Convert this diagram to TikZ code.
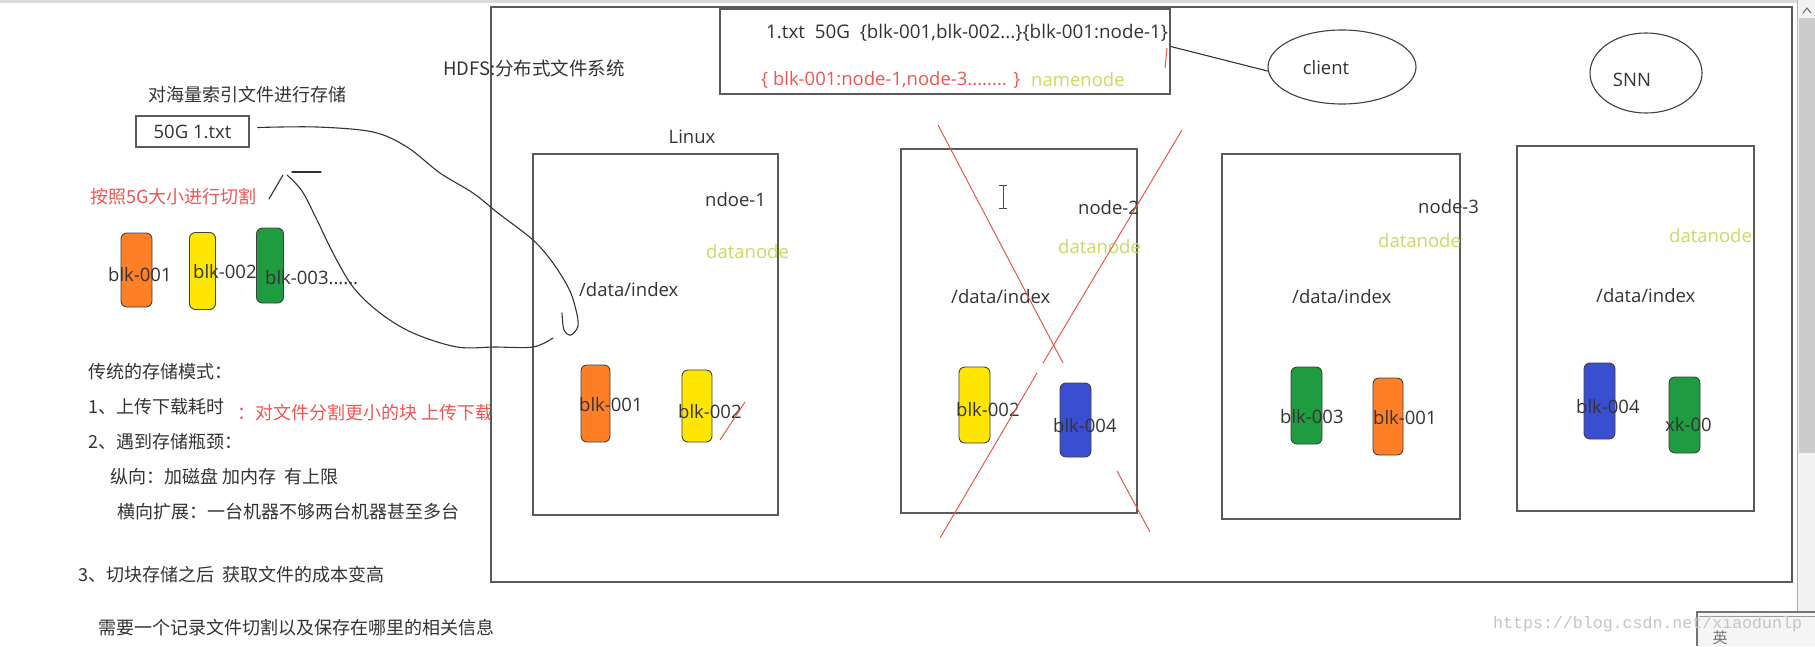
\documentclass[tikz,border=0pt]{standalone}
\usepackage{fontspec}
\setmainfont{Open Sans}
\newfontfamily\cjk{Noto Sans CJK SC}
\newfontfamily\wmfont{Liberation Mono}
\usetikzlibrary{shapes.geometric,calc}
\definecolor{txt}{HTML}{333333}
\definecolor{boxline}{HTML}{5A5A5A}
\definecolor{orangeblk}{HTML}{FF7F27}
\definecolor{yellowblk}{HTML}{FFE600}
\definecolor{greenblk}{HTML}{1F9B40}
\definecolor{blueblk}{HTML}{3A4ED2}
\definecolor{dngreen}{HTML}{C6DC62}
\definecolor{redtxt}{HTML}{F05552}
\definecolor{redx}{HTML}{E8584A}
\definecolor{wmgray}{HTML}{C4C4C4}
\begin{document}
\begin{tikzpicture}[x=1pt,y=-1pt,
  lbl/.style={inner sep=0pt, anchor=west, text=txt, font=\fontsize{18.5}{20}\selectfont},
  zh/.style={inner sep=0pt, anchor=west, text=txt, font=\cjk\fontsize{18}{20}\selectfont},
  dn/.style={lbl, text=dngreen},
  blk/.style={draw=black!75, line width=0.9pt, rounded corners=6pt, minimum width=30pt, minimum height=76pt, inner sep=0pt},
  srv/.style={draw=boxline, line width=1.6pt, inner sep=0pt},
  ell/.style={ellipse, draw=black!75, line width=1.1pt, inner sep=0pt},
  xline/.style={draw=redx, line width=1pt},
  hand/.style={draw=black!80, line width=1.1pt, line cap=round, line join=round}
]
\useasboundingbox (0,0) rectangle (1815,646);
\fill[white] (0,0) rectangle (1815,646);
% window top border
\fill[black!15] (0,0) rectangle (1797,3);
% scrollbar
\fill[black!5] (1797,0) rectangle (1815,646);
\draw[black!30, line width=0.8pt] (1797,0) -- (1797,646);
\fill[black!20] (1799,18) rectangle (1815,453);
\draw[black!60, line width=1pt] (1803,13) -- (1807,8) -- (1811,13);

% ---------- left column ----------
\node[zh] (tA) at (148,95) {对海量索引文件进行存储};
\node[draw=boxline, line width=1.5pt, minimum width=113pt, minimum height=31pt, inner sep=0pt, text=txt, font=\fontsize{18.5}{20}\selectfont] (f50) at (192.5,131.5) {50G 1.txt};
\node[zh, text=redtxt] (tCut) at (90,197) {按照5G大小进行切割};

\node[blk, fill=orangeblk, minimum width=31pt, minimum height=74pt] (l1) at (136.5,270) {};
\node[blk, fill=yellowblk, minimum width=26pt, minimum height=77pt] (l2) at (202.5,271) {};
\node[blk, fill=greenblk, minimum width=27pt, minimum height=75pt] (l3) at (270,265.5) {};
\node[lbl] at (108,275) {blk-001};
\node[lbl] at (193,272) {blk-002};
\node[lbl] at (265,278) {blk-003......};

\node[zh] at (88,372) {传统的存储模式：};
\node[zh] at (88,407) {1、上传下载耗时};
\node[zh, text=redtxt] at (237,413) {：对文件分割更小的块 上传下载};
\node[zh] at (88,442) {2、遇到存储瓶颈：};
\node[zh] at (110,477) {纵向：加磁盘 加内存 \ 有上限};
\node[zh] at (117,512) {横向扩展：一台机器不够两台机器甚至多台};
\node[zh] at (78,575) {3、切块存储之后 \ 获取文件的成本变高};
\node[zh] at (98,628) {需要一个记录文件切割以及保存在哪里的相关信息};

% ---------- HDFS frame ----------
\node[srv, anchor=north west, minimum width=1301pt, minimum height=575pt] (hdfs) at (490,6) {};
\node[zh, font=\cjk\fontsize{18.5}{20}\selectfont] at (443,68) {HDFS:分布式文件系统};

% namenode box
\node[srv, minimum width=450pt, minimum height=85pt] (nn) at (945,51.5) {};
\node[lbl, font=\fontsize{18.8}{20}\selectfont] at (766,33) {1.txt\ \ 50G\ \ \{blk-001,blk-002...\}\{blk-001:node-1\}};
\node[lbl, text=redtxt] at (761,80) {\{ blk-001:node-1,node-3........ \}};
\node[dn] at (1031,80) {namenode};
\draw[xline] (1167,48) -- (1165,68);

% client & SNN
\node[ell, minimum width=148pt, minimum height=74pt] (client) at (1342,67) {};
\node[lbl, anchor=center] at (1326,68) {client};
\draw[hand] ([yshift=5pt]nn.east) -- ([yshift=-4pt]client.west);
\node[ell, minimum width=112pt, minimum height=80pt] (snn) at (1646,73) {};
\node[lbl, anchor=center] at (1632,80) {SNN};

% ---------- node-1 ----------
\node[lbl, anchor=center] at (692,137) {Linux};
\node[srv, minimum width=245pt, minimum height=361pt] (n1) at (655.5,334.5) {};
\node[lbl] at (705,200) {ndoe-1};
\node[dn] at (706,252) {datanode};
\node[lbl] at (579,290) {/data/index};
\node[blk, fill=orangeblk, minimum width=29pt, minimum height=77pt] (a1) at (595.5,403.5) {};
\node[blk, fill=yellowblk, minimum width=30pt, minimum height=72pt] (a2) at (697,406) {};
\node[lbl] at (579,405) {blk-001};
\node[lbl] at (678,412) {blk-002};
\draw[xline] (720,440) -- (745,402);

% ---------- node-2 ----------
\node[srv, minimum width=236pt, minimum height=364pt] (n2) at (1019,331) {};
\node[lbl] at (1078,208) {node-2};
\node[dn] at (1058,247) {datanode};
\node[lbl] at (951,297) {/data/index};
\node[blk, fill=yellowblk, minimum width=31pt, minimum height=76pt] (b1) at (974.5,405) {};
\node[blk, fill=blueblk, minimum width=31pt, minimum height=74pt] (b2) at (1075.5,420) {};
\node[lbl] at (956,410) {blk-002};
\node[lbl] at (1053,426) {blk-004};
% text cursor
\draw[black!70, line width=1pt] (1003,185) -- (1003,208) (999,185) -- (1007,185) (999,208) -- (1007,208);
% red cross
\draw[xline] (938,125) -- (1063,363);
\draw[xline] (1117,471) -- (1150,532);
\draw[xline] (1182,130) -- (1043,363);
\draw[xline] (1037,373) -- (940,538);

% ---------- node-3 ----------
\node[srv, minimum width=238pt, minimum height=365pt] (n3) at (1341,336.5) {};
\node[lbl] at (1418,207) {node-3};
\node[dn] at (1378,241) {datanode};
\node[lbl] at (1292,297) {/data/index};
\node[blk, fill=greenblk, minimum width=31pt, minimum height=77pt] (c1) at (1306.5,405.5) {};
\node[blk, fill=orangeblk, minimum width=30pt, minimum height=77pt] (c2) at (1388,416.5) {};
\node[lbl] at (1280,417) {blk-003};
\node[lbl] at (1373,418) {blk-001};

% ---------- node-4 ----------
\node[srv, minimum width=237pt, minimum height=365pt] (n4) at (1635.5,328.5) {};
\node[dn] at (1669,236) {datanode};
\node[lbl] at (1596,296) {/data/index};
\node[blk, fill=blueblk, minimum width=31pt, minimum height=76pt] (d1) at (1599.5,401) {};
\node[blk, fill=greenblk, minimum width=31pt, minimum height=76pt] (d2) at (1684.5,415) {};
\node[lbl] at (1576,407) {blk-004};
\node[lbl] at (1665,425) {xk-00};

% ---------- hand-drawn curves ----------
\coordinate (hookEnd) at (562,313);
\draw[hand] plot[smooth, tension=0.55] coordinates {([xshift=8pt,yshift=4pt]f50.east) (317,127) (373,132) (407,147) (440,173) (473,193) (498,213) (533,240) (553,263) (569,289) (576,310) (578,326) (571,335) (564,330) (hookEnd)};
\coordinate (cutTop) at (287,175);
\coordinate (cutEnd) at (553,338);
\draw[hand] plot[smooth, tension=0.55] coordinates {(cutTop) (302,191) (317,220) (333,253) (353,287) (380,313) (413,333) (457,347) (495,347) (533,347) (cutEnd)};
\coordinate (s1) at (269,199);
\coordinate (s2) at (283,175);
\draw[hand] (s1) -- (s2);
\coordinate (h1) at (292,172);
\coordinate (h2) at (321,172);
\draw[hand] (h1) -- (h2);

% ---------- IME bar & watermark ----------
\fill[black!4] (1697,612) rectangle (1815,646);
\draw[black!55, line width=1.2pt] (1697,646) -- (1697,612) -- (1815,612);
\draw[black!40, line width=0.8pt] (1699,616) -- (1815,616);
\node[inner sep=0pt, text=black!55, font=\cjk\fontsize{15}{16}\selectfont] at (1720,638) {英};
\node[inner sep=0pt, anchor=west, text=wmgray, font=\wmfont\fontsize{16.6}{18}\selectfont] at (1493,624) {https://blog.csdn.net/xiaodunlp};
\end{tikzpicture}
\end{document}
